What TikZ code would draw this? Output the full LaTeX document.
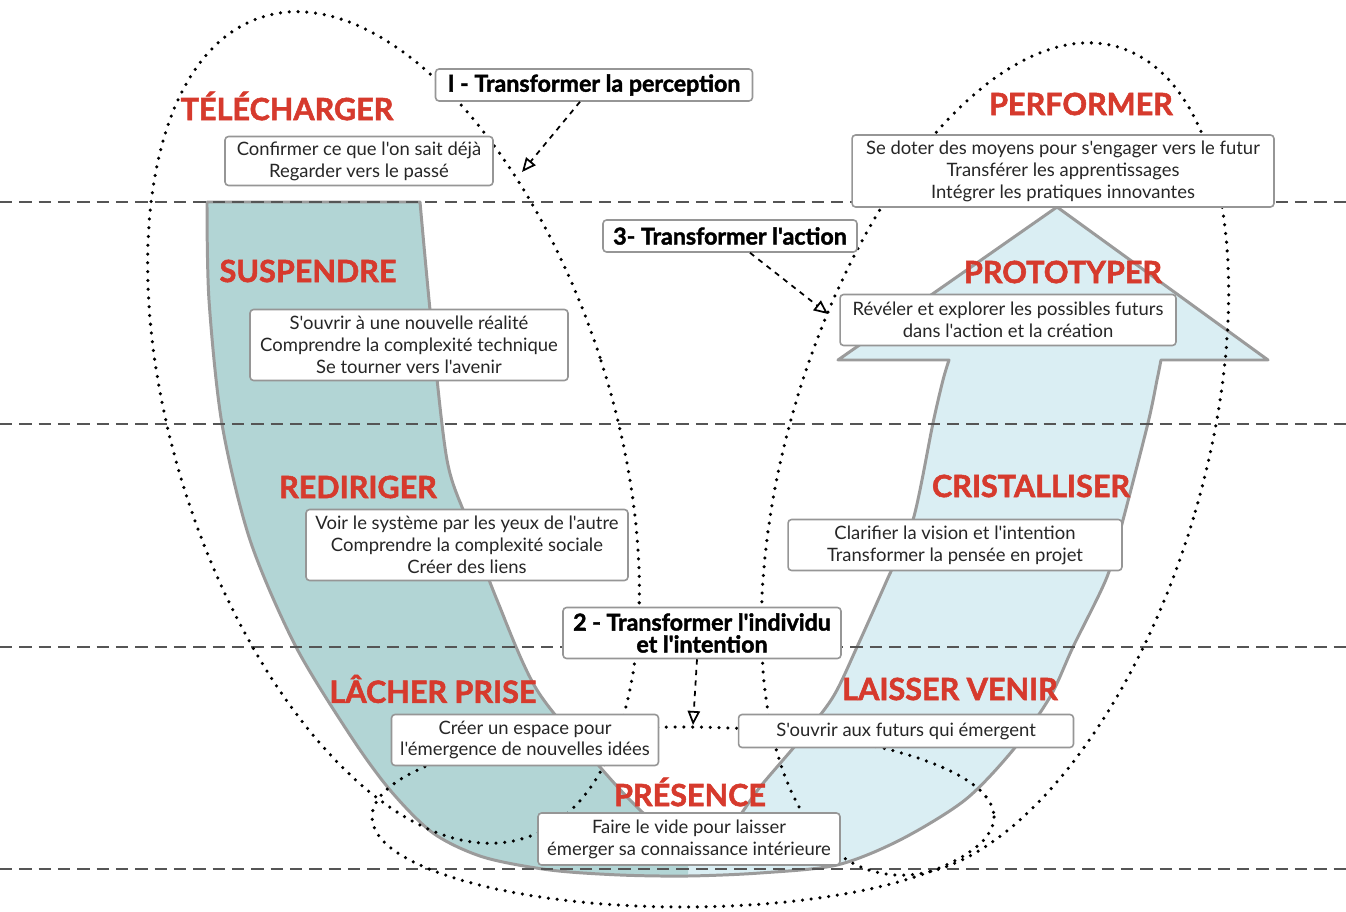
\documentclass[tikz,border=0pt]{standalone}
\usepackage{fontspec}
\setmainfont{Lato}
\newfontfamily\hdfont{Lato}[BoldFeatures={FakeBold=1.8}]
\usepackage{tikz}
\usetikzlibrary{arrows.meta}
\definecolor{hdred}{RGB}{214,58,45}
\definecolor{teald}{RGB}{178,213,213}
\definecolor{teall}{RGB}{218,238,243}
\definecolor{edgegray}{RGB}{155,155,155}
\definecolor{boxgray}{RGB}{150,150,150}
\definecolor{dashgray}{RGB}{85,85,85}
\tikzset{
  box_n/.style = {draw=boxgray, fill=white, rounded corners=2pt, line width=0.9pt,
    align=center, inner sep=2pt, text=black!85, font=\hdfont\fontsize{10.5}{12.5}\selectfont},
  tr_n/.style = {box_n, text=black, font=\hdfont\fontsize{13.2}{12.5}\selectfont\bfseries},
  hd_n/.style = {inner sep=0pt, text=hdred, font=\hdfont\fontsize{17.4}{18}\selectfont\bfseries},
  lvl/.style = {dashgray, line width=1.4pt, dash pattern=on 7pt off 4pt},
  ell/.style = {black, line width=2pt, line cap=round, dash pattern=on 0pt off 5pt},
  tr_arr/.style = {-{Triangle[open,length=8pt,width=7pt]}, dashed, line width=1pt}
}

\begin{document}
\begin{tikzpicture}[x=0.02cm, y=-0.02cm]
\useasboundingbox (0,0) rectangle (1346,912);

% la forme en U
\path[save path=\ushp] plot[smooth] coordinates {(207,202) (209,300) (222,424) (250,540)
    (295,645) (350,735) (390,790) (433,833) (483,857) (550,870) (620,875) (688,876)
    (760,873) (837,865) (900,840) (965,800) (1013,750) (1050,697) (1073,647)
    (1107,577) (1123,520) (1148,423) (1157,380) (1161,360)}
  -- (1268,360) -- (1057,207) -- (838,360)
  -- plot[smooth] coordinates {(949,360) (943,380) (933,423) (913,520) (887,580)
    (857,647) (833,697) (800,740) (760,787) (730,827) (688,852)}
  -- plot[smooth] coordinates {(688,852) (640,810) (600,767) (537,690) (497,600)
    (467,520) (447,460) (432,330) (420,202)}
  -- cycle;
\fill[teall, use path=\ushp];
\begin{scope}
  \clip (0,0) rectangle (688,912);
  \fill[teald, use path=\ushp];
\end{scope}
\draw[edgegray, line width=1.7pt, line join=round, use path=\ushp];

% niveaux
\foreach \ly in {202,424,647,869}
  \draw[lvl] (0,\ly) -- (1346,\ly);

% ellipses
\draw[ell, rotate around={17.8:(393.5,427.5)}] (393.5,427.5) ellipse [x radius=218, y radius=431];
\draw[ell, rotate around={-16.7:(995,459)}] (995,459) ellipse [x radius=207, y radius=430];
\draw[ell] (683,817) ellipse [x radius=311, y radius=90];

% titres
\node[hd_n] (telecharger) at (287,106) {TÉLÉCHARGER};
\node[hd_n] (performer) at (1081,104) {PERFORMER};
\node[hd_n] (suspendre) at (308,271) {SUSPENDRE};
\node[hd_n] (prototyper) at (1063,272) {PROTOTYPER};
\node[hd_n] (rediriger) at (358,487) {REDIRIGER};
\node[hd_n] (cristalliser) at (1031,486) {CRISTALLISER};
\node[hd_n] (lacherprise) at (433,689) {LÂCHER PRISE};
\node[hd_n] (laisservenir) at (950,689) {LAISSER VENIR};
\node[hd_n] (presence) at (690,792) {PRÉSENCE};

% encadres
\node[box_n, minimum width=5.36cm, minimum height=0.98cm] (telech) at (359,161)
  {Confirmer ce que l'on sait déjà\\Regarder vers le passé};
\node[box_n, minimum width=8.44cm, minimum height=1.44cm] (perf) at (1063,171)
  {Se doter des moyens pour s'engager vers le futur\\Transférer les apprentissages\\Intégrer les pratiques innovantes};
\node[box_n, minimum width=6.36cm, minimum height=1.42cm] (susp) at (409,345)
  {S'ouvrir à une nouvelle réalité\\Comprendre la complexité technique\\Se tourner vers l'avenir};
\node[box_n, minimum width=6.72cm, minimum height=1.02cm] (proto) at (1008,320)
  {Révéler et explorer les possibles futurs\\dans l'action et la création};
\node[box_n, minimum width=6.44cm, minimum height=1.42cm] (redir) at (467,545)
  {Voir le système par les yeux de l'autre\\Comprendre la complexité sociale\\Créer des liens};
\node[box_n, minimum width=6.68cm, minimum height=1.02cm] (crist) at (955,545)
  {Clarifier la vision et l'intention\\Transformer la pensée en projet};
\node[box_n, minimum width=5.34cm, minimum height=1.02cm] (lacher) at (525,740)
  {Créer un espace pour\\l'émergence de nouvelles idées};
\node[box_n, minimum width=6.7cm, minimum height=0.66cm] (laisser) at (906,731)
  {S'ouvrir aux futurs qui émergent};
\node[box_n, minimum width=6.04cm, minimum height=1.04cm] (pres) at (689,839)
  {Faire le vide pour laisser\\émerger sa connaissance intérieure};

% transformations
\node[tr_n, minimum width=6.34cm, minimum height=0.64cm] (tr1) at (594,85)
  {I - Transformer la perception};
\node[tr_n, minimum width=5.08cm, minimum height=0.64cm] (tr3) at (730,236)
  {3- Transformer l'action};
\node[tr_n, minimum width=5.56cm, minimum height=1.02cm] (tr2) at (702,633)
  {2 - Transformer l'individu\\et l'intention};

\coordinate (p1) at (522,172);
\coordinate (p2) at (693,725);
\coordinate (p3) at (828,314);

\draw[tr_arr] ([xshift=-0.28cm]tr1.south) -- (p1);
\draw[tr_arr] ([xshift=0.4cm]tr3.south) -- (p3);
\draw[tr_arr] ([xshift=-0.1cm]tr2.south) -- (p2);
\end{tikzpicture}
\end{document}
